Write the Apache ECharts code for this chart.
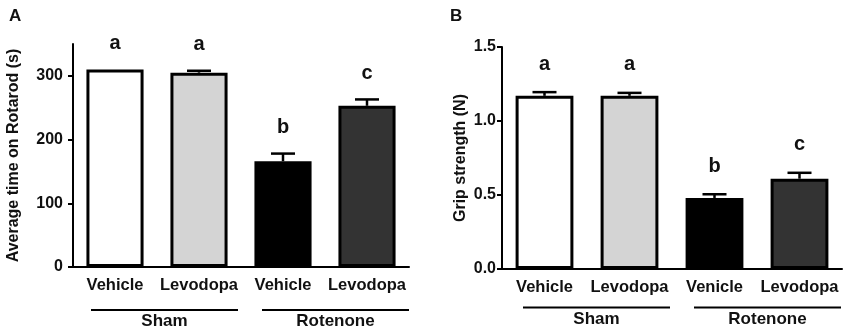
<!DOCTYPE html>
<html>
<head>
<meta charset="utf-8">
<script src="https://cdn.jsdelivr.net/npm/echarts@6/dist/echarts.min.js"></script>
<style>
  html, body { margin: 0; padding: 0; background: #fff; }
  #chart { width: 850px; height: 333px; }
</style>
</head>
<body>
<div id="chart"></div>
<script>
// panel A: rotarod
const categoriesA = ['Vehicle', 'Levodopa', 'Vehicle', 'Levodopa']
const rotarodMean = [310, 305, 166, 253]
const rotarodSem = [0, 3, 12, 10]
const rotarodLetters = ['a', 'a', 'b', 'c']
const ticksA = [0, 100, 200, 300]

// panel B: grip strength
const categoriesB = ['Vehicle', 'Levodopa', 'Venicle', 'Levodopa']
const gripMean = [1.17, 1.17, 0.48, 0.61]
const gripSem = [0.025, 0.02, 0.025, 0.04]
const gripLetters = ['a', 'a', 'b', 'c']
const ticksB = [0, 0.5, 1.0, 1.5]

const groups = ['Sham', 'Rotenone']

const FONT = '"Liberation Sans", Arial, sans-serif'
const INK = '#111'
const fills = ['#ffffff', '#d4d4d4', '#000000', '#333333']

const chart = echarts.init(document.getElementById('chart'))

function barSeries(idx, values) {
  return {
    type: 'bar',
    xAxisIndex: idx,
    yAxisIndex: idx,
    barWidth: '68%',
    silent: true,
    data: values.map((v, i) => ({
      value: v,
      itemStyle: { color: fills[i], borderColor: '#000', borderWidth: 3 }
    }))
  }
}

// error bar (upper half only) + significance letter
function errSeries(idx, means, sems, letters, gap) {
  return {
    type: 'custom',
    xAxisIndex: idx,
    yAxisIndex: idx,
    silent: true,
    z: 5,
    data: means.map((m, i) => [i, m, sems[i]]),
    renderItem: (params, api) => {
      const i = api.value(0)
      const m = api.value(1)
      const s = api.value(2)
      const base = api.coord([i, m])
      const top = api.coord([i, m + s])
      const children = []
      if (s > 0) {
        children.push({
          type: 'line',
          shape: { x1: base[0], y1: base[1], x2: top[0], y2: top[1] },
          style: { stroke: '#000', lineWidth: 2.5 }
        })
        children.push({
          type: 'line',
          shape: { x1: top[0] - 12, y1: top[1], x2: top[0] + 12, y2: top[1] },
          style: { stroke: '#000', lineWidth: 2.5 }
        })
      }
      children.push({
        type: 'text',
        style: {
          text: letters[params.dataIndex],
          x: top[0],
          y: top[1] - gap,
          align: 'center',
          verticalAlign: 'middle',
          font: 'bold 20px ' + FONT,
          fill: INK
        }
      })
      return { type: 'group', children }
    }
  }
}

function xAxisCfg(idx, cats) {
  return {
    type: 'category',
    gridIndex: idx,
    data: cats,
    axisLine: { lineStyle: { color: '#000', width: 2 } },
    axisTick: { show: false },
    axisLabel: {
      margin: 10,
      color: INK,
      fontFamily: FONT,
      fontWeight: 'bold',
      fontSize: 16.5,
      interval: 0
    }
  }
}

function yAxisCfg(idx, max, ticks, name, fmt, gap, margin) {
  return {
    type: 'value',
    gridIndex: idx,
    min: 0,
    max: max,
    name: name,
    nameLocation: 'middle',
    nameGap: gap,
    nameTextStyle: { color: INK, fontFamily: FONT, fontWeight: 'bold', fontSize: 16 },
    splitLine: { show: false },
    axisLine: { show: true, lineStyle: { color: '#000', width: 2 } },
    axisTick: { show: true, length: 5, lineStyle: { color: '#000', width: 2 }, customValues: ticks },
    axisLabel: {
      margin: margin,
      color: INK,
      fontFamily: FONT,
      fontWeight: 'bold',
      fontSize: 16,
      customValues: ticks,
      formatter: fmt
    }
  }
}

function groupGraphics(lineY, textY, spans) {
  const out = []
  spans.forEach((sp, i) => {
    out.push({
      type: 'line',
      shape: { x1: sp[0], y1: lineY, x2: sp[1], y2: lineY },
      style: { stroke: '#000', lineWidth: 2 }
    })
    out.push({
      type: 'text',
      x: (sp[0] + sp[1]) / 2,
      y: textY,
      style: {
        text: groups[i],
        align: 'center',
        verticalAlign: 'middle',
        font: 'bold 17px ' + FONT,
        fill: INK
      }
    })
  })
  return out
}

const option = {
  animation: false,
  backgroundColor: '#fff',
  grid: [
    { left: 73, top: 44, width: 336, height: 223 },
    { left: 502, top: 47, width: 340, height: 222 }
  ],
  xAxis: [xAxisCfg(0, categoriesA), xAxisCfg(1, categoriesB)],
  yAxis: [
    yAxisCfg(0, 350, ticksA, 'Average time on Rotarod (s)', v => String(v), 51, 10),
    yAxisCfg(1, 1.5, ticksB, 'Grip strength (N)', v => v.toFixed(1), 33, 6)
  ],
  series: [
    barSeries(0, rotarodMean),
    errSeries(0, rotarodMean, rotarodSem, rotarodLetters, 26),
    barSeries(1, gripMean),
    errSeries(1, gripMean, gripSem, gripLetters, 28)
  ],
  graphic: [
    {
      type: 'text', left: 9, top: 8,
      style: { text: 'A', font: 'bold 17px ' + FONT, fill: INK }
    },
    {
      type: 'text', left: 450, top: 8,
      style: { text: 'B', font: 'bold 17px ' + FONT, fill: INK }
    },
    ...groupGraphics(310, 321, [[91, 238], [262, 409]]),
    ...groupGraphics(307.5, 319, [[523, 670], [694, 841]])
  ]
}

chart.setOption(option)
</script>
</body>
</html>
